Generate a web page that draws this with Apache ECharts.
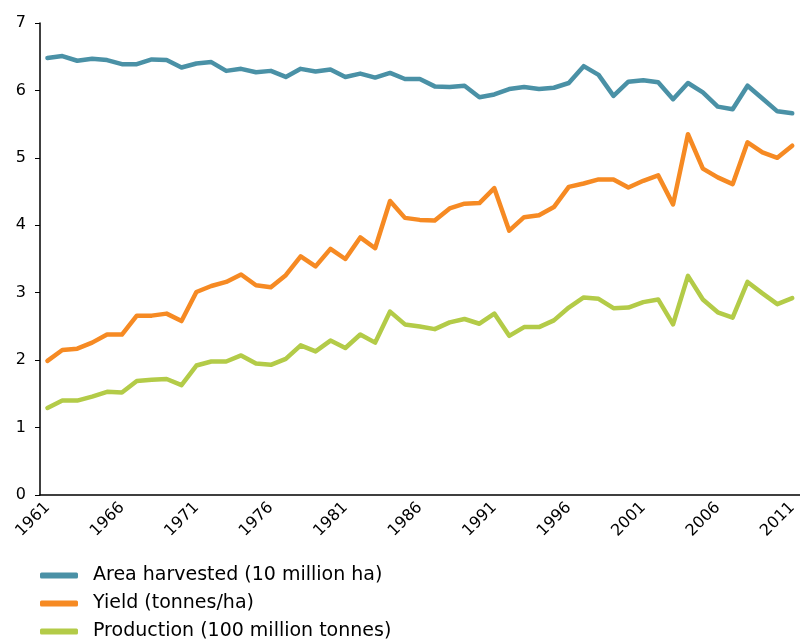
<!DOCTYPE html>
<html>
<head>
<meta charset="utf-8">
<script src="https://cdn.jsdelivr.net/npm/echarts@6/dist/echarts.min.js"></script>
<style>
  html, body { margin: 0; padding: 0; background: #fff; }
  #chart { width: 800px; height: 642px; }
</style>
</head>
<body>
<div id="chart"></div>
<script>
const years = [];
for (let y = 1961; y <= 2011; y++) years.push(String(y));

const areaHarvested = [
    6.48, 6.51, 6.44, 6.47, 6.45, 6.39, 6.39, 6.46, 6.45, 6.34,
    6.40, 6.42, 6.29, 6.32, 6.27, 6.29, 6.20, 6.32, 6.28, 6.31,
    6.20, 6.25, 6.19, 6.26, 6.17, 6.17, 6.06, 6.05, 6.07, 5.90,
    5.94, 6.02, 6.05, 6.02, 6.04, 6.11, 6.36, 6.23, 5.92, 6.13,
    6.15, 6.12, 5.87, 6.11, 5.97, 5.76, 5.72, 6.07, 5.88, 5.69,
    5.66
];
const yieldValues = [
    1.99, 2.15, 2.17, 2.26, 2.38, 2.38, 2.66, 2.66, 2.69, 2.58,
    3.01, 3.10, 3.16, 3.27, 3.11, 3.08, 3.26, 3.54, 3.39, 3.65,
    3.50, 3.82, 3.66, 4.36, 4.11, 4.08, 4.07, 4.25, 4.32, 4.33,
    4.55, 3.92, 4.12, 4.15, 4.27, 4.57, 4.62, 4.68, 4.68, 4.56,
    4.66, 4.74, 4.31, 5.35, 4.84, 4.71, 4.61, 5.23, 5.08, 5.00,
    5.18
];
const production = [
    1.29, 1.40, 1.40, 1.46, 1.53, 1.52, 1.69, 1.71, 1.72, 1.63,
    1.92, 1.98, 1.98, 2.07, 1.95, 1.93, 2.02, 2.22, 2.13, 2.29,
    2.18, 2.38, 2.26, 2.72, 2.53, 2.50, 2.46, 2.56, 2.61, 2.54,
    2.69, 2.36, 2.49, 2.49, 2.59, 2.78, 2.93, 2.91, 2.77, 2.78,
    2.86, 2.90, 2.53, 3.25, 2.90, 2.71, 2.63, 3.16, 2.99, 2.83,
    2.92
];

const seriesNames = ['Area harvested (10 million ha)', 'Yield (tonnes/ha)', 'Production (100 million tonnes)'];
const colors = ['#4a91a6', '#f68a23', '#b3cb48'];

const chart = echarts.init(document.getElementById('chart'));

function lineSeries(name, data, color) {
    return {
        name: name,
        type: 'line',
        data: data,
        symbol: 'none',
        smooth: false,
        lineStyle: { width: 4.5, color: color, cap: 'round', join: 'round' },
        itemStyle: { color: color },
        animation: false
    };
}

// one legend per row so they stack like the original
const legendTops = [566, 594, 622];
const legends = seriesNames.map((name, i) => ({
    orient: 'vertical',
    left: 40,
    top: legendTops[i],
    padding: 0,
    itemWidth: 38,
    itemHeight: 6,
    icon: 'roundRect',
    selectedMode: false,
    textStyle: { fontSize: 19, color: '#000', padding: [0, 0, 0, 10] },
    data: [name]
}));

chart.setOption({
    textStyle: { fontFamily: 'DejaVu Sans' },
    grid: { left: 40, right: 0, top: 23, bottom: 147 },
    legend: legends,
    xAxis: {
        type: 'category',
        data: years,
        boundaryGap: true,
        axisLine: { lineStyle: { color: '#000', width: 1.5 } },
        axisTick: { interval: 0, length: 5, lineStyle: { color: '#000' } },
        axisLabel: {
            interval: 4,
            rotate: 45,
            fontSize: 16,
            color: '#000',
            margin: 10
        }
    },
    yAxis: {
        type: 'value',
        min: 0,
        max: 7,
        interval: 1,
        axisLine: { show: true, lineStyle: { color: '#000', width: 1.5 } },
        axisTick: { show: true, length: 5, lineStyle: { color: '#000' } },
        axisLabel: { fontSize: 16, color: '#000', margin: 14 },
        splitLine: { show: false }
    },
    series: [
        lineSeries(seriesNames[0], areaHarvested, colors[0]),
        lineSeries(seriesNames[1], yieldValues, colors[1]),
        lineSeries(seriesNames[2], production, colors[2])
    ]
});
</script>
</body>
</html>
